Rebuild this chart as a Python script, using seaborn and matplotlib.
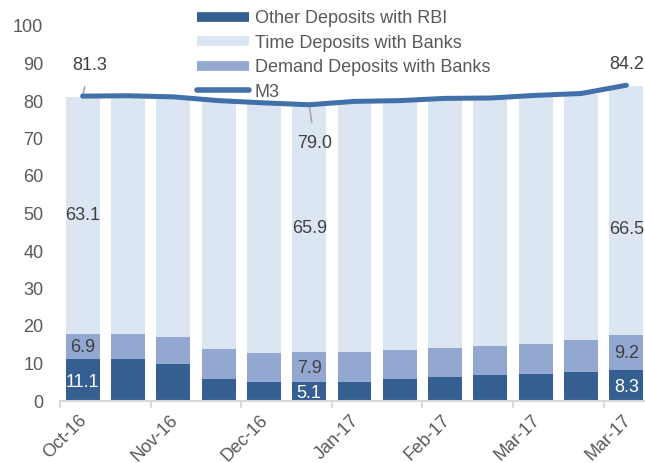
import numpy as np
import matplotlib
matplotlib.use("Agg")
import matplotlib.pyplot as plt
import seaborn as sns
from matplotlib.lines import Line2D
from matplotlib.transforms import ScaledTranslation

# fortnightly observations, Oct-16 to Mar-17
month_labels = ['Oct-16', '', 'Nov-16', '', 'Dec-16', '', 'Jan-17', '', 'Feb-17', '', 'Mar-17', '', 'Mar-17']
other_rbi = [11.1, 11.1, 10.0, 6.0, 5.1, 5.1, 5.2, 6.0, 6.3, 7.0, 7.3, 7.8, 8.3]
demand_dep = [6.9, 6.9, 7.0, 7.8, 7.8, 7.9, 7.9, 7.7, 7.9, 7.8, 8.0, 8.5, 9.2]
time_dep = [63.1, 63.4, 64.1, 66.3, 66.6, 65.9, 66.9, 66.6, 66.8, 66.3, 66.4, 65.7, 66.5]
m3 = [81.3, 81.4, 81.1, 80.1, 79.5, 79.0, 79.9, 80.1, 80.7, 80.8, 81.5, 82.0, 84.2]

c_dark = '#365F91'
c_mid = '#93A8D0'
c_light = '#DCE6F2'
c_line = '#4270AA'
c_text = '#595959'
c_lab = '#404040'

sns.set_style('white')
plt.rcParams['font.family'] = ['Liberation Sans', 'DejaVu Sans']
plt.rcParams['font.size'] = 13

fig = plt.figure(figsize=(6.45, 4.63), dpi=100)
ax = fig.add_axes([60 / 645, 62 / 463, 589 / 645, 375 / 463])

idx = np.arange(len(m3))
low = np.array(other_rbi)
mid = low + np.array(demand_dep)
top = mid + np.array(time_dep)

# stacked look: draw cumulative totals tallest first
sns.barplot(x=idx, y=top, color=c_light, saturation=1, width=0.75, errorbar=None, linewidth=0, ax=ax)
sns.barplot(x=idx, y=mid, color=c_mid, saturation=1, width=0.75, errorbar=None, linewidth=0, ax=ax)
sns.barplot(x=idx, y=low, color=c_dark, saturation=1, width=0.75, errorbar=None, linewidth=0, ax=ax)

ax.plot(idx, m3, color=c_line, linewidth=3.6, solid_capstyle='round', solid_joinstyle='round', zorder=5)

ax.set_xlim(-0.5, 12.5)
ax.set_ylim(0, 100)
ax.set_yticks(range(0, 101, 10))
ax.tick_params(axis='y', length=0, pad=12, labelcolor=c_text, labelsize=13)

ax.set_xticks(idx[::2])
ax.set_xticklabels(month_labels[::2], rotation=45, ha='right', va='top', rotation_mode='anchor')
ax.set_xticks(np.arange(-0.5, 12.5, 2), minor=True)
ax.tick_params(axis='x', which='major', length=0, pad=8, labelcolor=c_text, labelsize=13)
ax.tick_params(axis='x', which='minor', length=5, width=1.5, color='#D9D9D9', direction='out', bottom=True)
shift = ScaledTranslation(-3 / 72, 0, fig.dpi_scale_trans)
for lab in ax.get_xticklabels():
    lab.set_transform(lab.get_transform() + shift)
ax.set_xlabel('')
ax.set_ylabel('')

for s in ['left', 'right', 'top']:
    ax.spines[s].set_visible(False)
ax.spines['bottom'].set_color('#D9D9D9')
ax.spines['bottom'].set_linewidth(1.5)

# segment labels on first, middle and last bars
for i in [0, 5, 12]:
    ax.text(i, low[i] / 2 - 0.6, f'{other_rbi[i]:.1f}', color='white', ha='center', va='center', fontsize=13)
    ax.text(i, (low[i] + mid[i]) / 2 - 0.3, f'{demand_dep[i]:.1f}', color=c_lab, ha='center', va='center', fontsize=13)
    yt = (mid[i] + top[i]) / 2
    if i == 12:
        yt -= 5
    ax.text(i, yt, f'{time_dep[i]:.1f}', color=c_lab, ha='center', va='center', fontsize=13)

arrow = dict(arrowstyle='-', color='#A6A6A6', lw=1.2, shrinkA=7, shrinkB=0)
ax.annotate(f'{m3[0]:.1f}', xy=(0, m3[0]), xytext=(5, 22), textcoords='offset points',
            ha='center', va='center', color=c_lab, fontsize=13, arrowprops=arrow)
ax.annotate(f'{m3[5]:.1f}', xy=(5, m3[5]), xytext=(4, -28), textcoords='offset points',
            ha='center', va='center', color=c_lab, fontsize=13, arrowprops=arrow)
ax.annotate(f'{m3[12]:.1f}', xy=(12, m3[12]), xytext=(0, 15), textcoords='offset points',
            ha='center', va='center', color=c_lab, fontsize=13)

handles = [
    Line2D([], [], color=c_dark, lw=7, solid_capstyle='butt'),
    Line2D([], [], color=c_light, lw=7, solid_capstyle='butt'),
    Line2D([], [], color=c_mid, lw=7, solid_capstyle='butt'),
    Line2D([], [], color=c_line, lw=4, solid_capstyle='round'),
]
labels = ['Other Deposits with RBI', 'Time Deposits with Banks', 'Demand Deposits with Banks', 'M3']
leg = fig.legend(handles, labels, loc='upper left', bbox_to_anchor=(197 / 645, 1 - 10 / 463),
                 frameon=False, handlelength=2.9, handletextpad=0.3, labelspacing=0.42,
                 borderpad=0, borderaxespad=0, fontsize=13)
for t in leg.get_texts():
    t.set_color(c_text)

fig.savefig('out.png', dpi=100)
